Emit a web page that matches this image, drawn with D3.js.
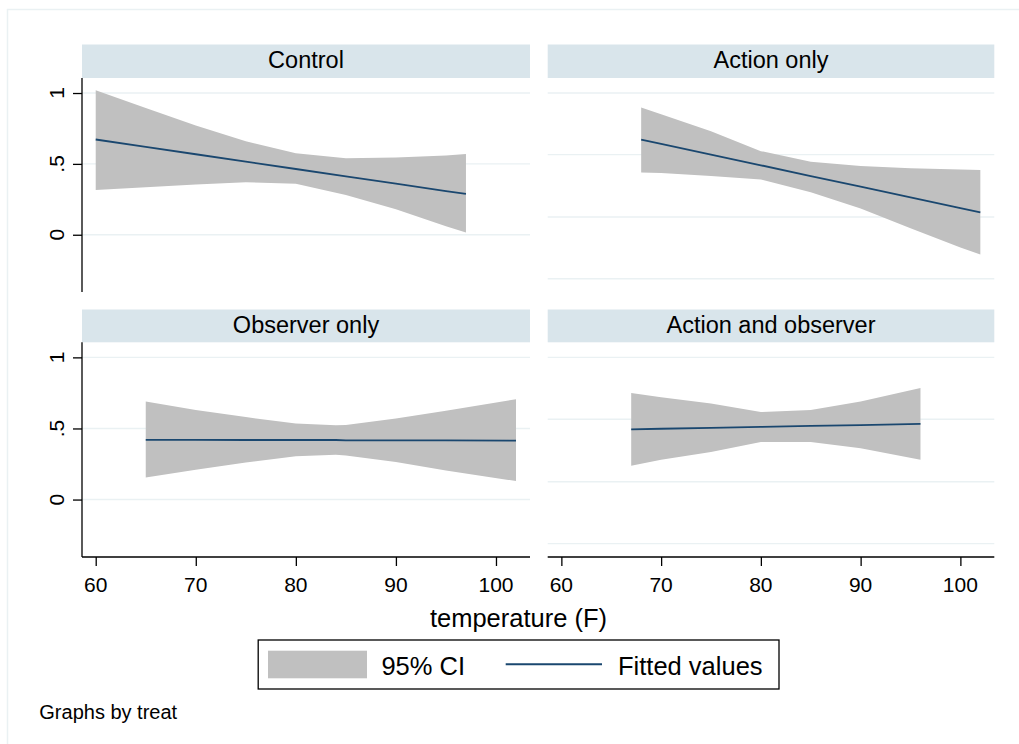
<!DOCTYPE html>
<html>
<head>
<meta charset="utf-8">
<script src="https://cdn.jsdelivr.net/npm/d3@7"></script>
<style>
  body { margin: 0; background: #ffffff; }
  text { font-family: 'Liberation Sans', Arial, sans-serif; fill: #000000; }
</style>
</head>
<body>
<div id="container"></div>
<script>
var panelNames = ['Control', 'Action only', 'Observer only', 'Action and observer']

// temperature points and fitted values / 95% CI
var controlTemp = [60, 65, 70, 75, 80, 85, 90, 95, 97]
var controlFit  = [0.672, 0.620, 0.568, 0.516, 0.464, 0.412, 0.360, 0.308, 0.288]
var controlLo   = [0.316, 0.335, 0.355, 0.370, 0.360, 0.280, 0.180, 0.060, 0.015]
var controlHi   = [1.020, 0.895, 0.770, 0.660, 0.575, 0.540, 0.545, 0.560, 0.570]

var actionTemp = [68, 70, 75, 80, 85, 90, 95, 100, 102]
var actionFit  = [0.672, 0.642, 0.566, 0.490, 0.414, 0.339, 0.263, 0.187, 0.157]
var actionLo   = [0.440, 0.435, 0.415, 0.390, 0.300, 0.185, 0.045, -0.090, -0.140]
var actionHi   = [0.897, 0.850, 0.730, 0.590, 0.515, 0.485, 0.470, 0.460, 0.457]

var observerTemp = [65, 70, 75, 80, 84, 85, 90, 95, 102]
var observerFit  = [0.420, 0.420, 0.419, 0.419, 0.419, 0.416, 0.416, 0.416, 0.415]
var observerLo   = [0.155, 0.210, 0.260, 0.305, 0.315, 0.310, 0.265, 0.205, 0.130]
var observerHi   = [0.690, 0.630, 0.580, 0.535, 0.522, 0.525, 0.570, 0.625, 0.705]

var bothTemp = [67, 70, 75, 80, 85, 90, 96]
var bothFit  = [0.494, 0.498, 0.504, 0.511, 0.518, 0.524, 0.532]
var bothLo   = [0.237, 0.280, 0.335, 0.405, 0.405, 0.360, 0.280]
var bothHi   = [0.750, 0.720, 0.675, 0.615, 0.630, 0.690, 0.785]

var xTicks = [60, 70, 80, 90, 100]
var yTicks = [0, 0.5, 1]
var yTickLabels = ['0', '.5', '1']
var rightGrid = [-0.31, 0.125, 0.565, 1]

var series = [
  { temp: controlTemp, fit: controlFit, lo: controlLo, hi: controlHi },
  { temp: actionTemp, fit: actionFit, lo: actionLo, hi: actionHi },
  { temp: observerTemp, fit: observerFit, lo: observerLo, hi: observerHi },
  { temp: bothTemp, fit: bothFit, lo: bothLo, hi: bothHi }
]

var width = 1019
var height = 744
var gridColor = '#eaf1f3'
var stripColor = '#d9e5eb'
var ciColor = '#c0c0c0'
var lineColor = '#1a476f'

var cols = [{ x0: 82, x1: 530 }, { x0: 547.7, x1: 994.3 }]
var rows = [{ head: 44.5, top: 78, bottom: 292 }, { head: 309.5, top: 342.3, bottom: 557 }]

var svg = d3.select('#container').append('svg')
  .attr('width', width)
  .attr('height', height)

svg.append('rect')
  .attr('width', width).attr('height', height)
  .attr('fill', '#ffffff')

// outer graph region outline (cut by the picture edges)
svg.append('rect')
  .attr('x', 7.5).attr('y', 9.5)
  .attr('width', 1100).attr('height', 800)
  .attr('fill', 'none')
  .attr('stroke', gridColor)
  .attr('stroke-width', 1.5)

function drawPanel(i){
  var col = cols[i % 2]
  var row = rows[Math.floor(i / 2)]
  var d = series[i]

  var x = d3.scaleLinear().domain([58.63, 103.4]).range([col.x0, col.x1])
  var y = d3.scaleLinear().domain([-0.404, 1.106]).range([row.bottom, row.top])

  var g = svg.append('g')

  // strip
  g.append('rect')
    .attr('x', col.x0).attr('y', row.head)
    .attr('width', col.x1 - col.x0).attr('height', row.top - row.head)
    .attr('fill', stripColor)

  g.append('text')
    .attr('x', (col.x0 + col.x1) / 2)
    .attr('y', row.head + 23.8)
    .attr('text-anchor', 'middle')
    .attr('font-size', '23.5px')
    .text(panelNames[i])

  // grid lines
  var gridVals = i % 2 === 0 ? yTicks : rightGrid
  g.selectAll('line.grid')
    .data(gridVals)
    .enter()
    .append('line')
    .attr('x1', col.x0).attr('x2', col.x1)
    .attr('y1', function(v){ return y(v) })
    .attr('y2', function(v){ return y(v) })
    .attr('stroke', gridColor)
    .attr('stroke-width', 1.4)

  var pts = d.temp.map(function(t, k){
    return { t: t, fit: d.fit[k], lo: d.lo[k], hi: d.hi[k] }
  })

  var area = d3.area()
    .x(function(p){ return x(p.t) })
    .y0(function(p){ return y(p.lo) })
    .y1(function(p){ return y(p.hi) })

  g.append('path')
    .datum(pts)
    .attr('d', area)
    .attr('fill', ciColor)

  var line = d3.line()
    .x(function(p){ return x(p.t) })
    .y(function(p){ return y(p.fit) })

  g.append('path')
    .datum(pts)
    .attr('d', line)
    .attr('fill', 'none')
    .attr('stroke', lineColor)
    .attr('stroke-width', 1.8)

  // y axis on left column
  if(i % 2 === 0){
    var yAxis = g.append('g')
      .attr('transform', 'translate(' + col.x0 + ',0)')
      .call(d3.axisLeft(y).tickValues(yTicks).tickSize(9).tickFormat(''))
    yAxis.select('.domain')
      .attr('d', 'M0,' + row.top + 'V' + row.bottom)
      .attr('stroke', '#000000').attr('stroke-width', 1.3)
    yAxis.selectAll('.tick line').attr('stroke', '#000000').attr('stroke-width', 1.3)

    g.selectAll('text.ylab')
      .data(yTicks)
      .enter()
      .append('text')
      .attr('transform', function(v){ return 'translate(64.3,' + y(v) + ') rotate(-90)' })
      .attr('text-anchor', 'middle')
      .attr('font-size', '21px')
      .text(function(v, k){ return yTickLabels[k] })
  }

  // x axis on bottom row
  if(i >= 2){
    var xAxis = g.append('g')
      .attr('transform', 'translate(0,' + row.bottom + ')')
      .call(d3.axisBottom(x).tickValues(xTicks).tickSize(9).tickFormat(''))
    xAxis.select('.domain')
      .attr('d', 'M' + col.x0 + ',0H' + col.x1)
      .attr('stroke', '#000000').attr('stroke-width', 1.3)
    xAxis.selectAll('.tick line').attr('stroke', '#000000').attr('stroke-width', 1.3)

    g.selectAll('text.xlab')
      .data(xTicks)
      .enter()
      .append('text')
      .attr('x', function(v){ return x(v) })
      .attr('y', 591.7)
      .attr('text-anchor', 'middle')
      .attr('font-size', '21px')
      .text(function(v){ return v })
  }
}

for(var i = 0; i < panelNames.length; i++){
  drawPanel(i)
}

svg.append('text')
  .attr('x', 518.5).attr('y', 626.5)
  .attr('text-anchor', 'middle')
  .attr('font-size', '25.5px')
  .text('temperature (F)')

// legend
var legend = svg.append('g')
legend.append('rect')
  .attr('x', 258.2).attr('y', 640)
  .attr('width', 520.8).attr('height', 49)
  .attr('fill', '#ffffff')
  .attr('stroke', '#000000')
  .attr('stroke-width', 1.3)
legend.append('rect')
  .attr('x', 268).attr('y', 650.7)
  .attr('width', 99).attr('height', 27.6)
  .attr('fill', ciColor)
legend.append('text')
  .attr('x', 381.4).attr('y', 675)
  .attr('font-size', '25.5px')
  .text('95% CI')
legend.append('line')
  .attr('x1', 505.7).attr('x2', 602)
  .attr('y1', 664.3).attr('y2', 664.3)
  .attr('stroke', lineColor)
  .attr('stroke-width', 2)
legend.append('text')
  .attr('x', 618).attr('y', 675)
  .attr('font-size', '25.5px')
  .text('Fitted values')

svg.append('text')
  .attr('x', 39.3).attr('y', 719.3)
  .attr('font-size', '20px')
  .text('Graphs by treat')
</script>
</body>
</html>
